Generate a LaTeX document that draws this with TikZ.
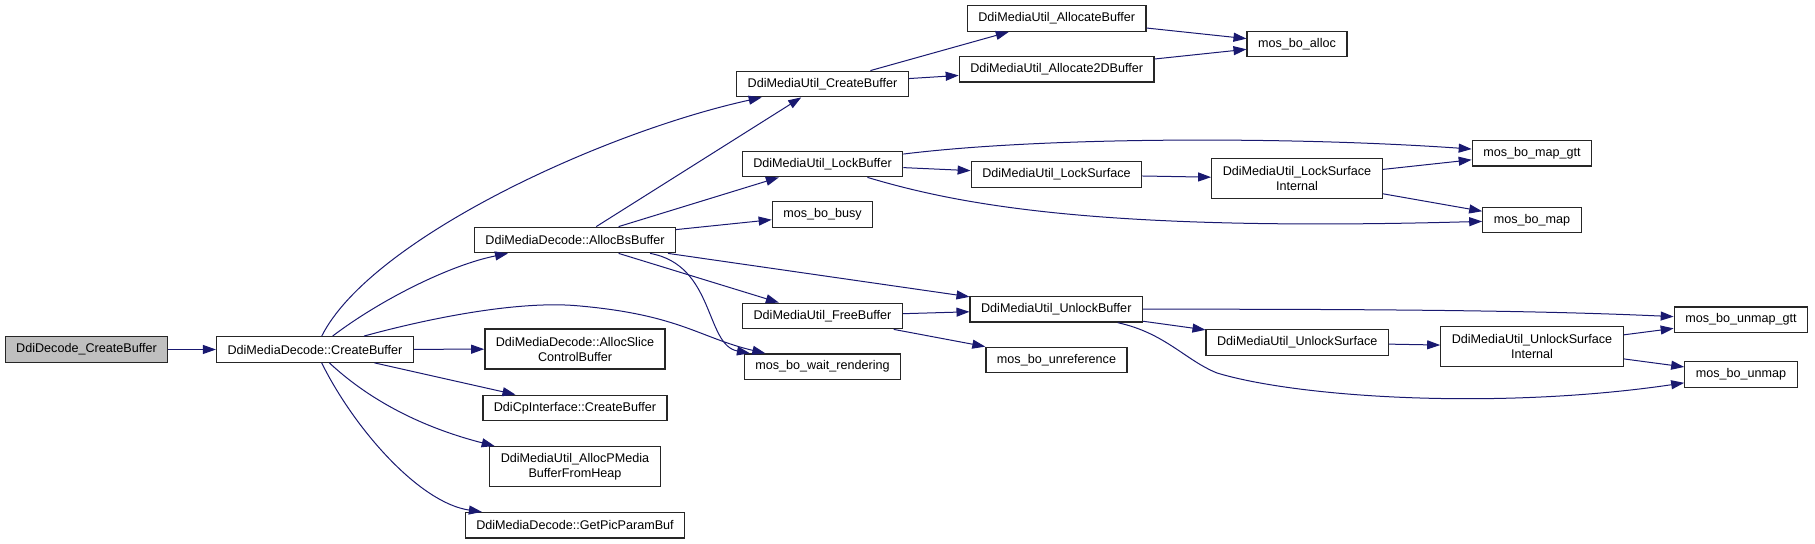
\documentclass[tikz,border=0pt]{standalone}
\usepackage{fontspec}
\setmainfont{Liberation Sans}
\usetikzlibrary{arrows.meta}

\definecolor{edgeblue}{HTML}{191970}
\definecolor{rootgray}{HTML}{BFBFBF}

\begin{document}
\begin{tikzpicture}[x=0.5pt, y=-0.5pt,
    fn/.style={draw=black!85, line width=0.65pt, fill=white, inner xsep=5.5pt, inner ysep=1pt,
               minimum height=12.75pt, font=\fontsize{6.3}{7.5}\selectfont},
    fntwo/.style={fn, align=center, minimum height=20pt},
    root/.style={fn, fill=rootgray},
    call/.style={draw=edgeblue, line width=0.5pt, -{Triangle[length=6.5pt,width=4.5pt]}}]

    \useasboundingbox (0,0) rectangle (1815,544);

    % Nodes, left to right
    \node[root] (dec) at (86.5,349.5) {DdiDecode\_CreateBuffer};
    \node[fn] (mdcb) at (315,349.5) {DdiMediaDecode::CreateBuffer};

    \node[fn] (absb) at (575,240) {DdiMediaDecode::AllocBsBuffer};
    \node[fntwo] (slice) at (575,349) {DdiMediaDecode::AllocSlice\\ControlBuffer};
    \node[fn] (cpi) at (575,408) {DdiCpInterface::CreateBuffer};
    \node[fntwo] (pmedia) at (575,466.7) {DdiMediaUtil\_AllocPMedia\\BufferFromHeap};
    \node[fn] (gpp) at (575,525.3) {DdiMediaDecode::GetPicParamBuf};

    \node[fn] (ucb) at (822.5,84) {DdiMediaUtil\_CreateBuffer};
    \node[fn] (lockb) at (822.5,164) {DdiMediaUtil\_LockBuffer};
    \node[fn] (busy) at (822.5,214.5) {mos\_bo\_busy};
    \node[fn] (freeb) at (822.5,316) {DdiMediaUtil\_FreeBuffer};
    \node[fn] (wait) at (822.5,366.7) {mos\_bo\_wait\_rendering};

    \node[fn] (allocb) at (1056.7,18.5) {DdiMediaUtil\_AllocateBuffer};
    \node[fn] (alloc2d) at (1056.7,69.3) {DdiMediaUtil\_Allocate2DBuffer};
    \node[fn] (locks) at (1056.5,174.5) {DdiMediaUtil\_LockSurface};
    \node[fn] (unlockb) at (1056.3,309.3) {DdiMediaUtil\_UnlockBuffer};
    \node[fn] (unref) at (1056.5,360) {mos\_bo\_unreference};

    \node[fn] (boalloc) at (1297,44) {mos\_bo\_alloc};
    \node[fntwo] (lsi) at (1297,178.7) {DdiMediaUtil\_LockSurface\\Internal};
    \node[fn] (unlocks) at (1297.3,342.5) {DdiMediaUtil\_UnlockSurface};

    \node[fn] (mapgtt) at (1532,153.3) {mos\_bo\_map\_gtt};
    \node[fn] (map) at (1532,220) {mos\_bo\_map};
    \node[fntwo] (usi) at (1532,346.7) {DdiMediaUtil\_UnlockSurface\\Internal};

    \node[fn] (unmapgtt) at (1741,319.7) {mos\_bo\_unmap\_gtt};
    \node[fn] (unmap) at (1741,374.5) {mos\_bo\_unmap};

    % Calls from the entry point
    \draw[call] (dec) -- (mdcb);
    \draw[call] (mdcb) .. controls (370,240) and (600,133) .. (ucb);
    \draw[call] (mdcb) .. controls (380,300) and (450,265) .. (absb);
    \draw[call] (mdcb) .. controls (430,318) and (520,300) .. (580,306)
                       .. controls (680,315) and (700,338) .. (wait);
    \draw[call] (mdcb) -- (slice);
    \draw[call] (mdcb) -- (cpi);
    \draw[call] (mdcb) .. controls (380,410) and (440,432) .. (pmedia);
    \draw[call] (mdcb) .. controls (355,430) and (420,503) .. (gpp);

    % AllocBsBuffer
    \draw[call] (absb) -- (ucb);
    \draw[call] (absb) -- (lockb);
    \draw[call] (absb) -- (busy);
    \draw[call] (absb) -- (freeb);
    \draw[call] (absb) .. controls (715,265) and (705,345) .. (wait);
    \draw[call] (absb) -- (unlockb);

    % buffer creation
    \draw[call] (ucb) -- (allocb);
    \draw[call] (ucb) -- (alloc2d);
    \draw[call] (allocb) -- (boalloc);
    \draw[call] (alloc2d) -- (boalloc);

    % locking
    \draw[call] (lockb) .. controls (1050,136) and (1300,137) .. (mapgtt);
    \draw[call] (lockb) -- (locks);
    \draw[call] (lockb) .. controls (960,205) and (1100,232) .. (map);
    \draw[call] (locks) -- (lsi);
    \draw[call] (lsi) -- (mapgtt);
    \draw[call] (lsi) -- (map);

    % freeing and unlocking
    \draw[call] (freeb) -- (unlockb);
    \draw[call] (freeb) -- (unref);
    \draw[call] (unlockb) .. controls (1400,309) and (1550,311) .. (unmapgtt);
    \draw[call] (unlockb) -- (unlocks);
    \draw[call] (unlockb) .. controls (1165,333) and (1185,360) .. (1217,373)
                          .. controls (1300,398) and (1500,410) .. (unmap);
    \draw[call] (unlocks) -- (usi);
    \draw[call] (usi) -- (unmapgtt);
    \draw[call] (usi) -- (unmap);
\end{tikzpicture}
\end{document}
